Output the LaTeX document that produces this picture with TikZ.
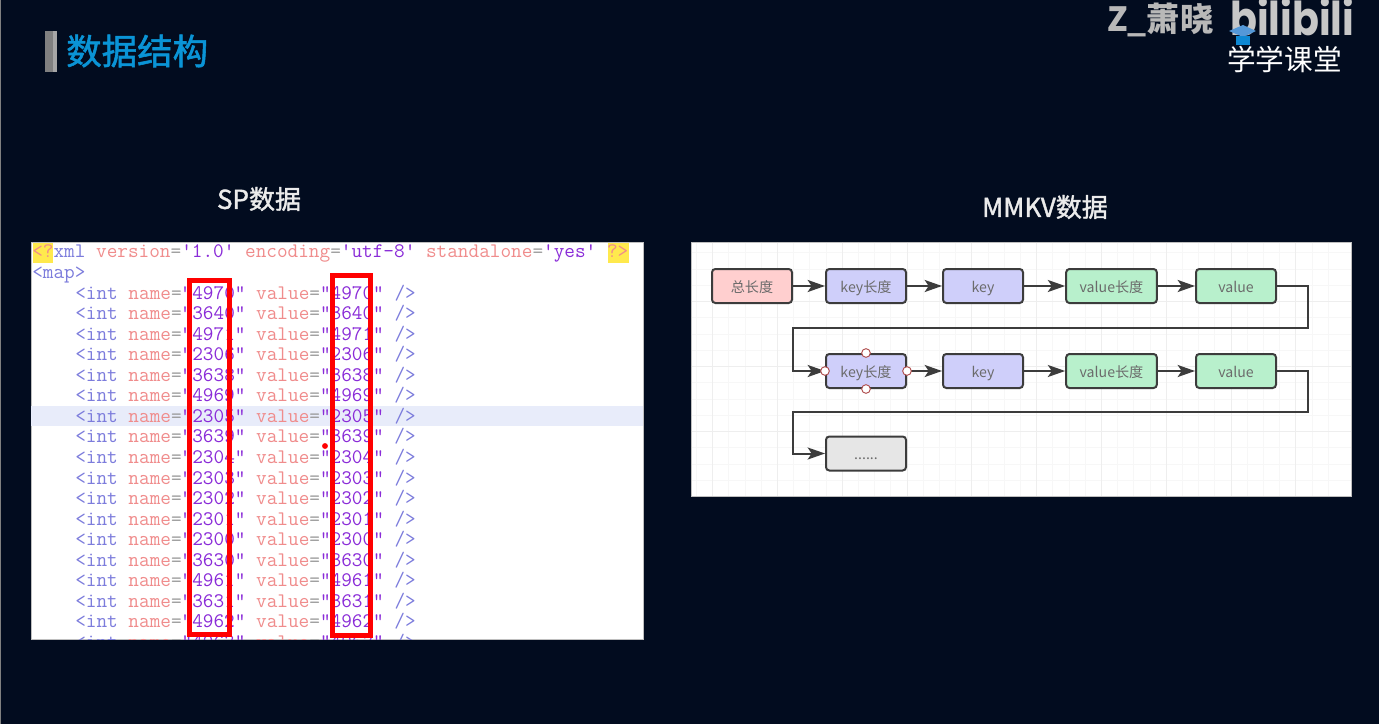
\documentclass[tikz,border=0pt]{standalone}
\usepackage{fontspec}
\usetikzlibrary{arrows.meta}
\newfontfamily\cjk{Noto Sans CJK SC}
\newfontfamily\cjkmed[FakeBold=1.5]{Noto Sans CJK SC}
\newfontfamily\logofont{Poppins}
\definecolor{pagebg}{HTML}{020C1F}
\definecolor{titleblue}{HTML}{0A94D6}
\definecolor{tagblue}{HTML}{7C7CDC}
\definecolor{attrred}{HTML}{F08C8C}
\definecolor{eqgray}{HTML}{999999}
\definecolor{numpurple}{HTML}{8A2BD8}
\definecolor{markyellow}{HTML}{FFE94D}
\definecolor{bandblue}{HTML}{E8ECFA}
\definecolor{gridminor}{HTML}{F7F7F7}
\definecolor{gridmajor}{HTML}{EEEEEE}
\definecolor{flowline}{HTML}{3C3C3C}
\definecolor{fillred}{HTML}{FFCFCF}
\definecolor{fillblue}{HTML}{CFCFFA}
\definecolor{fillgreen}{HTML}{B8F0CC}
\definecolor{fillgray}{HTML}{E6E6E6}
\newcommand{\intline}[1]{\textcolor{tagblue}{<int} \textcolor{attrred}{name}\textcolor{eqgray}{=}\textcolor{numpurple}{"#1"} \textcolor{attrred}{value}\textcolor{eqgray}{=}\textcolor{numpurple}{"#1"} \textcolor{tagblue}{/>}}
\begin{document}
\begin{tikzpicture}[x=0.75pt,y=-0.75pt,
	codeline/.style={anchor=base west,inner sep=0pt,font=\ttfamily\fontsize{15.5}{16}\selectfont},
	flowbox/.style={draw=flowline,line width=1.5pt,rounded corners=2.5pt,minimum height=25.5pt,inner sep=0pt,text height=11pt,text depth=2pt,text=black!58,font=\cjk\fontsize{10.6}{12}\selectfont},
	arrow/.style={draw=flowline,line width=1.5pt,-{Stealth[length=13pt,width=9pt,inset=3pt]}},
	handle/.style={circle,draw=red!55!black!70,fill=white,line width=0.7pt,minimum size=6.5pt,inner sep=0pt},
	redbox/.style={draw=red,line width=3.8pt},
	caption/.style={text=white!92!black,font=\cjkmed\fontsize{19.5}{22}\selectfont}]

	\useasboundingbox (0,0) rectangle (1379,724);
	\fill[pagebg] (0,0) rectangle (1379,724);
	\fill[gray] (0,0) rectangle (1,724);

	\fill[black!50] (45,31) rectangle (53,72);
	\fill[black!35] (53,31) rectangle (57,72);
	\node[anchor=west,inner sep=0pt,text=titleblue,font=\cjkmed\fontsize{26.6}{30}\selectfont] (title) at (66,51) {数据结构};
	\node[anchor=west,inner sep=0pt,text=white!72!black,font=\cjk\bfseries\fontsize{25}{28}\selectfont] (speaker) at (1107,20) {Z\_萧晓};
	\node[anchor=base west,inner sep=0pt,text=white!78!black,font=\logofont\bfseries\fontsize{35}{38}\selectfont] (logo) at (1230,36) {\scalebox{0.85}[1]{bilibili}};
	\node[anchor=west,inner sep=0pt,text=white,font=\cjk\fontsize{21.5}{24}\selectfont] (school) at (1227,59) {学学课堂};
	\fill[cyan!60!blue!70!white] (1229,31) -- (1243,25) -- (1256,31) -- (1243,37) -- cycle;
	\fill[cyan!70!blue] (1236,36) rectangle (1250,45);

	\node[caption] (sptitle) at (259,199) {SP数据};
	\node[caption] (mmkvtitle) at (1045,207) {MMKV数据};

	\fill[white,draw=black!25,line width=0.5pt] (31,242) rectangle (643,639);
	\begin{scope}
		\clip (31,242) rectangle (643,639);
		\fill[bandblue] (31,406) rectangle (643,426);
		\fill[markyellow] (33,243) rectangle (53,263);
		\fill[markyellow] (608,243) rectangle (629,263);
		\node[codeline] (xmlhead) at (32,257) {\textcolor{attrred}{<?}\textcolor{tagblue}{xml} \textcolor{attrred}{version}\textcolor{eqgray}{=}\textcolor{numpurple}{'1.0'} \textcolor{attrred}{encoding}\textcolor{eqgray}{=}\textcolor{numpurple}{'utf-8'} \textcolor{attrred}{standalone}\textcolor{eqgray}{=}\textcolor{numpurple}{'yes'} \textcolor{attrred}{?>}};
		\node[codeline,text=tagblue] (maptag) at (32,278) {<map>};
		\foreach \num [count=\i] in {4970,3640,4971,2306,3638,4969,2305,3639,2304,2303,2302,2301,2300,3630,4961,3631,4962,4963}
			\node[codeline] (line\i) at (75,{278.5+20.55*\i}) {\intline{\num}};
	\end{scope}
	\draw[redbox] (189.5,280.5) rectangle (229.5,634.5);
	\draw[redbox] (332.5,275.5) rectangle (370.5,635.5);
	\fill[red] (325,446) circle (2.2pt);

	\fill[white,draw=black!25,line width=0.5pt] (691,242) rectangle (1351,496);
	\foreach \gx in {0,...,39}
		\draw[gridminor,line width=0.8pt] ({696.5+16.2*\gx},242.5) -- ({696.5+16.2*\gx},495.5);
	\foreach \gy in {1,...,15}
		\draw[gridminor,line width=0.8pt] (691.5,{236.7+16.25*\gy}) -- (1350.5,{236.7+16.25*\gy});
	\foreach \gx in {0,...,9}
		\draw[gridmajor,line width=0.8pt] ({712.7+64.8*\gx},242.5) -- ({712.7+64.8*\gx},495.5);
	\foreach \gy in {1,2,3}
		\draw[gridmajor,line width=0.8pt] (691.5,{236.7+65*\gy}) -- (1350.5,{236.7+65*\gy});

	\node[flowbox,fill=fillred,minimum width=60pt] (total) at (752,286) {总长度};
	\node[flowbox,fill=fillblue,minimum width=60pt] (keylen) at (866,286) {key长度};
	\node[flowbox,fill=fillblue,minimum width=60pt] (key) at (983,286) {key};
	\node[flowbox,fill=fillgreen,minimum width=68pt] (vallen) at (1111.5,286) {value长度};
	\node[flowbox,fill=fillgreen,minimum width=60pt] (val) at (1236,286) {value};
	\node[flowbox,fill=fillblue,minimum width=60pt] (keylentwo) at (866,371) {key长度};
	\node[flowbox,fill=fillblue,minimum width=60pt] (keytwo) at (983,371) {key};
	\node[flowbox,fill=fillgreen,minimum width=68pt] (vallentwo) at (1111.5,371) {value长度};
	\node[flowbox,fill=fillgreen,minimum width=60pt] (valtwo) at (1236,371) {value};
	\node[flowbox,fill=fillgray,minimum width=60pt] (more) at (866,453.5) {......};

	\coordinate (wrapa) at (1308,328);
	\coordinate (wrapb) at (793,328);
	\coordinate (wrapc) at (1308,412);
	\coordinate (wrapd) at (793,412);

	\draw[arrow] (total) -- (keylen);
	\draw[arrow] (keylen) -- (key);
	\draw[arrow] (key) -- (vallen);
	\draw[arrow] (vallen) -- (val);
	\draw[arrow] (val.east) -| (wrapa) -- (wrapb) |- (keylentwo.west);
	\draw[arrow] (keylentwo) -- (keytwo);
	\draw[arrow] (keytwo) -- (vallentwo);
	\draw[arrow] (vallentwo) -- (valtwo);
	\draw[arrow] (valtwo.east) -| (wrapc) -- (wrapd) |- (more.west);

	\node[handle] (handlen) at (keylentwo.north) {};
	\node[handle] (handles) at (keylentwo.south) {};
	\node[handle] (handlee) at (keylentwo.east) {};
	\node[handle] (handlew) at (keylentwo.west) {};

\end{tikzpicture}
\end{document}
